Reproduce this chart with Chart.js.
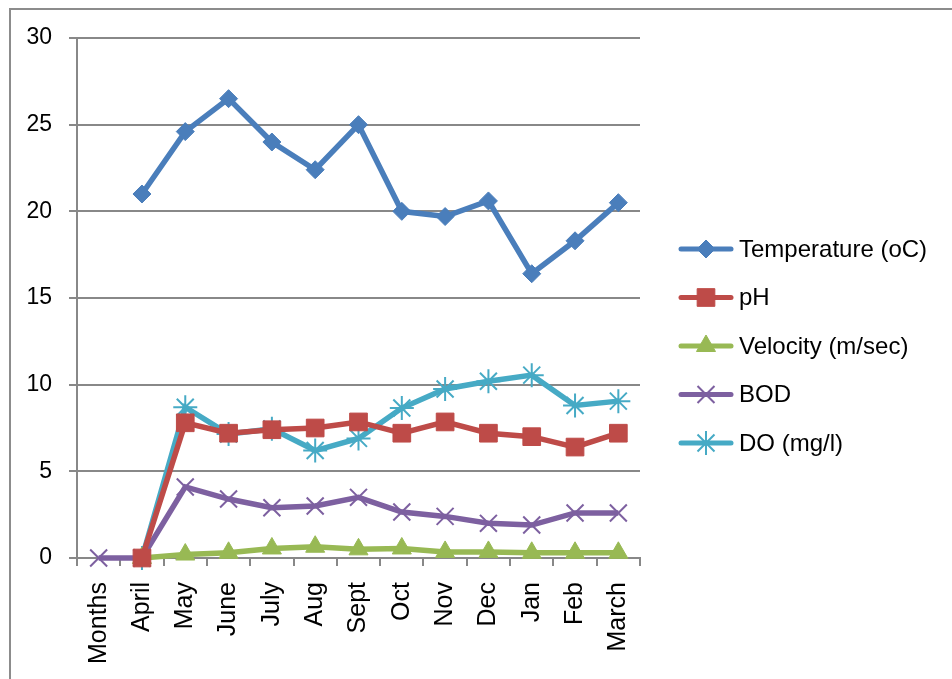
<!DOCTYPE html>
<html>
<head>
<meta charset="utf-8">
<script src="https://cdn.jsdelivr.net/npm/chart.js@4.4.0/dist/chart.umd.min.js"></script>
<style>
html, body { margin: 0; padding: 0; background: #fff; }
</style>
</head>
<body>
<canvas id="chart" width="952" height="679"></canvas>
<script>
// values
const months = ['Months', 'April', 'May', 'June', 'July', 'Aug', 'Sept', 'Oct', 'Nov', 'Dec', 'Jan', 'Feb', 'March'];
const temperature = [null, 21, 24.6, 26.5, 24, 22.4, 25, 20, 19.7, 20.6, 16.4, 18.3, 20.5];
const ph = [null, 0, 7.8, 7.2, 7.4, 7.5, 7.85, 7.2, 7.85, 7.2, 7.0, 6.4, 7.2];
const velocity = [null, 0, 0.2, 0.3, 0.55, 0.65, 0.5, 0.55, 0.35, 0.35, 0.3, 0.3, 0.3];
const bod = [0, 0, 4.1, 3.4, 2.9, 3.0, 3.5, 2.65, 2.4, 2.0, 1.9, 2.6, 2.6];
const dissolvedOxygen = [null, 0, 8.7, 7.15, 7.45, 6.2, 6.9, 8.65, 9.75, 10.2, 10.55, 8.8, 9.05];
const yTicks = [0, 5, 10, 15, 20, 25, 30];

const FONT = '"Liberation Sans", Arial, sans-serif';
const GRID = '#888888';

function series(label, values, color, style, radius, borderWidth) {
    return {
        label: label,
        data: values,
        borderColor: color,
        backgroundColor: color,
        borderWidth: 5.5,
        pointStyle: style,
        pointRadius: radius,
        pointHoverRadius: radius,
        pointBackgroundColor: color,
        pointBorderColor: color,
        pointBorderWidth: borderWidth,
        tension: 0,
        spanGaps: false,
        clip: false
    };
}

// outer frame of the chart object
const framePlugin = {
    id: 'frame',
    beforeDraw(chart) {
        const ctx = chart.ctx;
        ctx.save();
        ctx.strokeStyle = '#8c8c8c';
        ctx.lineWidth = 2;
        ctx.beginPath();
        ctx.moveTo(10, chart.height);
        ctx.lineTo(10, 9);
        ctx.lineTo(chart.width, 9);
        ctx.stroke();
        ctx.restore();
    }
};

// legend with line + marker samples, like the spreadsheet one
const sideLegend = {
    id: 'sideLegend',
    afterDraw(chart) {
        const ctx = chart.ctx;
        ctx.save();
        chart.data.datasets.forEach((ds, i) => {
            const y = 249 + i * 48.5;
            ctx.strokeStyle = ds.borderColor;
            ctx.lineWidth = 5;
            ctx.lineCap = 'round';
            ctx.beginPath();
            ctx.moveTo(681, y);
            ctx.lineTo(731, y);
            ctx.stroke();
            ctx.fillStyle = ds.pointBackgroundColor;
            ctx.strokeStyle = ds.pointBorderColor;
            ctx.lineWidth = ds.pointBorderWidth;
            ctx.lineCap = 'butt';
            Chart.helpers.drawPoint(ctx, {
                pointStyle: ds.pointStyle,
                radius: ds.pointRadius,
                borderWidth: ds.pointBorderWidth,
                rotation: 0
            }, 706, y);
            ctx.fillStyle = '#000';
            ctx.font = '24px ' + FONT;
            ctx.textBaseline = 'middle';
            ctx.textAlign = 'left';
            ctx.fillText(ds.label, 739, y + 1);
        });
        ctx.restore();
    }
};

new Chart(document.getElementById('chart').getContext('2d'), {
    type: 'line',
    data: {
        labels: months,
        datasets: [
            series('Temperature (oC)', temperature, '#4a7ebb', 'rectRot', 9, 1),
            series('pH', ph, '#be4b48', 'rect', 12.5, 1),
            series('Velocity (m/sec)', velocity, '#98b954', 'triangle', 11, 1),
            series('BOD', bod, '#7d60a0', 'crossRot', 12, 2),
            series('DO (mg/l)', dissolvedOxygen, '#46aac5', 'star', 12, 2)
        ]
    },
    options: {
        responsive: false,
        animation: false,
        devicePixelRatio: 1,
        layout: { padding: { top: 38, right: 312, bottom: 0, left: 0 } },
        plugins: {
            legend: { display: false },
            tooltip: { enabled: false }
        },
        scales: {
            x: {
                offset: true,
                afterFit: s => { s.height = 121; },
                grid: {
                    offset: true,
                    drawOnChartArea: false,
                    drawTicks: true,
                    tickLength: 8,
                    color: GRID,
                    lineWidth: 2
                },
                border: { color: GRID, width: 2 },
                ticks: {
                    minRotation: 90,
                    maxRotation: 90,
                    autoSkip: false,
                    padding: 16,
                    color: '#000',
                    font: { family: FONT, size: 25 }
                }
            },
            y: {
                min: 0,
                max: 30,
                afterFit: s => { s.width = 77; },
                afterBuildTicks: s => { s.ticks = yTicks.map(v => ({ value: v })); },
                grid: {
                    color: GRID,
                    lineWidth: 2,
                    drawTicks: true,
                    tickLength: 8
                },
                border: { color: GRID, width: 2 },
                ticks: {
                    padding: 17,
                    color: '#000',
                    font: { family: FONT, size: 23 }
                }
            }
        }
    },
    plugins: [framePlugin, sideLegend]
});
</script>
</body>
</html>
